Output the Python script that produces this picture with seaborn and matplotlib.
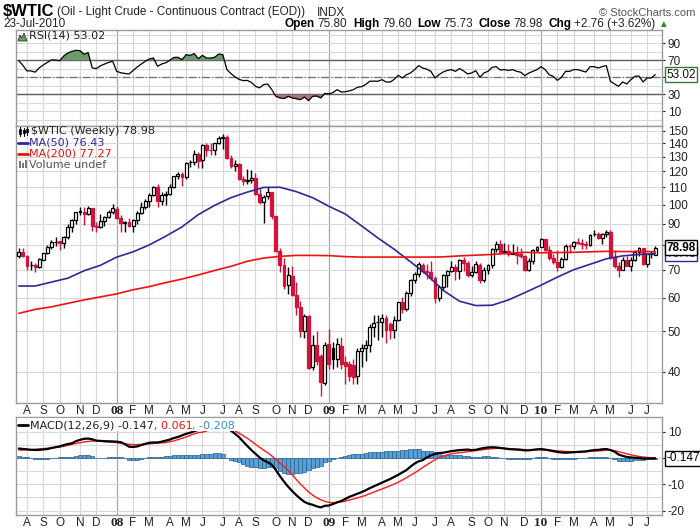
import numpy as np
import pandas as pd
import matplotlib
matplotlib.use("Agg")
import matplotlib.pyplot as plt
from matplotlib.lines import Line2D
from matplotlib.patches import Polygon, Rectangle
import seaborn as sns

# weekly bars, Monday of the first week
first_week = "2007-07-23"

opens = [75.6, 77.0, 75.5, 71.7, 72.0, 71.1, 74.0, 76.7, 79.1, 81.5,
         81.7, 81.2, 83.7, 88.6, 91.9, 95.9, 96.3, 95.1, 98.2, 88.7,
         88.3, 91.3, 93.3, 96.0, 97.9, 92.7, 90.6, 90.7, 89.0, 91.8,
         95.5, 98.8, 101.8, 105.2, 110.2, 101.8, 105.6, 106.2, 110.1, 116.7,
         118.5, 116.3, 126.0, 126.3, 132.2, 127.4, 138.5, 134.9, 134.6, 140.2,
         144.3, 145.1, 128.9, 123.3, 125.1, 115.2, 113.8, 114.6, 115.5, 106.2,
         101.2, 104.6, 106.9, 93.9, 77.7, 71.9, 64.2, 67.8, 61.0, 57.0,
         49.9, 54.4, 41.0, 46.3, 43.5, 37.7, 46.5, 45.5, 43.0, 46.0,
         42.2, 41.8, 41.5, 39.0, 44.8, 45.5, 46.3, 51.1, 52.4, 52.5,
         53.6, 51.9, 50.2, 53.2, 58.6, 56.3, 61.7, 66.3, 68.4, 72.0,
         69.6, 69.2, 66.7, 59.9, 63.6, 68.1, 69.5, 71.0, 69.6, 73.9,
         72.7, 68.0, 69.3, 72.0, 66.0, 70.0, 71.8, 78.5, 80.5, 77.0,
         77.4, 76.4, 76.7, 76.1, 75.5, 69.9, 73.4, 78.1, 79.4, 82.8,
         78.0, 74.5, 72.9, 71.2, 74.1, 79.8, 79.7, 81.5, 81.2, 80.7,
         80.0, 84.9, 84.9, 83.2, 85.1, 86.2, 75.1, 71.6, 70.0, 74.0,
         71.5, 73.8, 77.2, 78.9, 72.1, 76.1, 75.80]

highs = [78.8, 78.8, 75.9, 73.3, 72.6, 74.5, 76.9, 80.2, 82.4, 83.9,
         82.0, 84.1, 90.0, 92.2, 96.2, 98.6, 98.5, 99.3, 98.4, 90.8,
         94.8, 93.8, 97.0, 100.1, 99.1, 94.6, 91.6, 92.9, 92.3, 96.7,
         101.3, 103.0, 106.5, 111.0, 111.8, 107.0, 107.9, 112.2, 117.0, 119.9,
         119.5, 126.2, 127.8, 135.1, 133.7, 139.1, 139.9, 139.9, 140.4, 145.9,
         147.3, 146.7, 131.0, 127.4, 125.9, 116.9, 121.8, 121.0, 119.0, 108.9,
         105.3, 110.0, 107.0, 94.1, 79.0, 74.5, 71.0, 71.6, 65.5, 59.1,
         55.0, 54.6, 49.0, 50.0, 44.0, 47.0, 50.5, 47.0, 48.0, 48.5,
         43.5, 42.5, 43.0, 45.5, 46.5, 47.5, 52.0, 54.7, 54.5, 54.8,
         54.5, 52.5, 54.2, 58.7, 60.1, 62.3, 66.6, 69.0, 73.2, 72.6,
         72.2, 73.4, 67.6, 64.4, 68.4, 70.0, 73.4, 72.4, 74.3, 75.0,
         73.4, 71.3, 73.4, 72.6, 70.9, 72.3, 78.9, 82.0, 82.5, 81.0,
         80.5, 80.4, 79.6, 79.0, 75.7, 74.6, 78.2, 79.7, 83.5, 83.0,
         79.7, 76.3, 78.0, 75.2, 80.5, 80.5, 82.0, 83.2, 83.0, 82.0,
         84.9, 87.0, 86.2, 85.6, 87.2, 87.0, 77.8, 72.9, 75.0, 75.4,
         75.0, 77.8, 79.3, 79.0, 76.2, 77.4, 79.60]

lows = [74.8, 74.9, 69.9, 69.8, 69.0, 70.5, 73.8, 76.3, 78.3, 79.5,
        77.8, 78.7, 83.0, 85.9, 90.1, 94.6, 89.5, 94.4, 86.5, 85.9,
        88.0, 89.0, 92.8, 95.0, 92.3, 86.1, 86.1, 88.3, 86.1, 90.0,
        94.8, 97.8, 98.9, 104.7, 98.7, 99.6, 99.6, 105.5, 109.6, 115.4,
        111.0, 115.0, 122.7, 124.4, 122.0, 122.5, 130.6, 131.5, 131.5, 139.6,
        135.9, 128.2, 122.3, 120.4, 114.6, 111.3, 111.8, 112.4, 105.5, 100.1,
        90.5, 103.0, 92.6, 77.1, 69.0, 63.0, 61.3, 60.6, 54.7, 48.3,
        48.2, 40.5, 40.3, 41.5, 35.1, 37.2, 40.5, 40.5, 41.0, 40.5,
        37.5, 38.0, 37.3, 37.3, 41.0, 42.5, 44.5, 48.5, 47.5, 48.5,
        46.7, 47.9, 48.2, 52.7, 55.3, 55.8, 60.5, 65.1, 67.3, 68.8,
        66.5, 66.0, 58.3, 59.0, 62.7, 63.7, 69.0, 66.1, 66.6, 69.5,
        67.1, 67.1, 68.9, 65.1, 65.6, 68.3, 70.7, 77.1, 76.4, 76.3,
        75.6, 76.1, 72.4, 74.5, 69.5, 69.5, 72.2, 77.2, 79.3, 77.6,
        73.9, 72.4, 69.5, 70.7, 73.8, 76.8, 78.3, 80.7, 78.5, 78.6,
        79.6, 84.0, 82.7, 80.8, 83.7, 74.2, 70.8, 67.2, 69.8, 71.3,
        69.5, 73.4, 75.4, 71.8, 71.2, 74.5, 75.73]

closes = [77.02, 75.48, 71.47, 71.98, 71.09, 74.04, 76.70, 79.10, 81.62, 81.66,
          81.22, 83.69, 88.60, 91.86, 95.93, 96.32, 95.10, 98.18, 88.71, 88.28,
          91.27, 93.31, 96.00, 97.91, 92.69, 90.57, 90.71, 88.96, 91.77, 95.50,
          98.81, 101.84, 105.15, 110.21, 101.84, 105.62, 106.23, 110.14, 116.69, 118.52,
          116.32, 125.96, 126.29, 132.19, 127.35, 138.54, 134.86, 134.62, 140.21, 144.30,
          145.08, 128.88, 123.26, 125.10, 115.20, 113.77, 114.59, 115.46, 106.23, 101.18,
          104.55, 106.89, 93.88, 77.70, 71.85, 64.15, 67.81, 61.04, 57.04, 49.93,
          54.43, 40.81, 46.28, 42.36, 37.71, 46.34, 41.80, 43.00, 46.47, 41.68,
          41.20, 39.00, 38.90, 44.76, 45.52, 46.25, 51.06, 52.38, 52.51, 53.60,
          50.33, 50.20, 53.20, 58.63, 56.34, 61.67, 66.31, 68.44, 72.04, 69.55,
          69.16, 66.73, 59.89, 63.56, 68.05, 69.45, 70.93, 69.60, 73.89, 72.74,
          68.02, 69.29, 72.04, 66.02, 69.95, 71.77, 78.53, 80.50, 77.00, 77.43,
          76.35, 76.72, 76.05, 75.47, 69.87, 73.36, 78.05, 79.36, 82.75, 78.00,
          74.54, 72.89, 71.19, 74.13, 79.81, 79.66, 81.50, 81.24, 80.68, 80.00,
          84.87, 84.92, 83.24, 85.12, 86.15, 75.11, 71.61, 70.04, 73.97, 71.51,
          73.78, 77.18, 78.86, 72.14, 76.09, 76.22, 78.98]

# moving averages read every 4th week
ma_weeks = list(range(0, 157, 4))
ma50 = [64.0, 64.0, 65.4, 66.8, 69.6, 71.7, 75.0, 77.2, 80.2, 84.1,
        88.5, 94.7, 99.6, 103.9, 107.1, 109.9, 110.0, 107.4, 103.9, 99.1,
        95.0, 89.0, 83.3, 78.3, 73.1, 68.1, 62.5, 58.9, 57.5, 57.6,
        59.3, 61.7, 64.3, 67.2, 70.0, 72.1, 74.3, 75.5, 76.1, 76.43]
ma200 = [55.1, 56.3, 57.1, 58.2, 59.3, 60.3, 61.3, 62.7, 63.8, 65.2,
         66.5, 68.0, 69.7, 71.3, 73.3, 74.6, 75.3, 75.7, 75.7, 75.6,
         75.2, 75.0, 75.0, 75.0, 75.0, 75.0, 75.1, 75.5, 75.8, 76.1,
         76.6, 77.0, 76.8, 76.9, 77.0, 77.2, 77.4, 77.3, 77.3, 77.27]

rsi14 = [69.5, 64.0, 57.5, 57.5, 56.0, 61.0, 64.5, 67.5, 70.5, 70.3,
         69.5, 75.0, 78.5, 80.5, 81.7, 81.3, 77.0, 79.0, 61.0, 60.2,
         63.5, 65.5, 67.5, 68.8, 57.0, 55.3, 54.5, 53.9, 57.8, 62.0,
         65.5, 68.8, 71.5, 72.7, 62.9, 65.6, 67.0, 70.0, 73.3, 73.5,
         70.7, 76.6, 75.8, 77.8, 71.9, 75.8, 72.7, 72.5, 73.5, 77.4,
         76.6, 59.0, 54.3, 50.5, 47.5, 46.1, 46.3, 44.0, 39.4, 37.5,
         41.4, 42.0, 35.5, 27.6, 25.7, 25.0, 27.6, 25.7, 24.8, 23.7,
         26.8, 22.5, 27.6, 28.0, 25.7, 31.1, 30.4, 32.0, 35.5, 32.7,
         33.0, 34.0, 35.5, 38.2, 39.0, 41.5, 45.3, 45.5, 45.3, 47.2,
         44.5, 44.3, 47.5, 52.3, 49.2, 53.0, 55.1, 59.0, 63.7, 60.9,
         59.5, 57.0, 49.2, 53.1, 56.2, 58.0, 59.0, 57.0, 60.2, 57.5,
         53.9, 55.1, 57.8, 50.0, 55.1, 57.0, 61.7, 62.5, 58.6, 59.0,
         58.0, 59.0, 57.0, 56.0, 51.9, 55.0, 57.0, 59.0, 62.5, 59.0,
         53.1, 51.0, 46.4, 50.0, 57.0, 57.0, 59.0, 59.0, 57.5, 56.2,
         62.5, 62.5, 61.0, 62.5, 63.7, 45.3, 42.1, 39.4, 44.5, 42.1,
         47.2, 51.1, 51.5, 44.5, 49.2, 49.2, 53.02]

macd_line = [3.6, 3.45, 3.3, 3.1, 3.05, 3.1, 3.25, 3.4, 3.8, 4.1,
             4.4, 4.9, 5.3, 5.6, 6.4, 6.9, 7.3, 7.4, 7.1, 6.6,
             6.5, 6.4, 6.35, 6.3, 6.2, 6.0, 5.3, 4.3, 4.2, 4.4,
             4.9, 5.4, 5.8, 5.9, 5.9, 6.2, 6.6, 7.0, 7.6, 8.0,
             8.6, 9.2, 9.6, 10.2, 10.7, 11.2, 11.9, 12.5, 13.0, 13.4,
             13.3, 11.5, 10.4, 9.2, 7.9, 6.2, 4.6, 3.0, 1.6, 0.2,
             -0.9, -1.6, -2.6, -4.6, -6.9, -9.0, -10.9, -12.6, -14.1, -15.5,
             -16.7, -17.4, -17.8, -18.4, -18.8, -18.2, -18.1, -17.5, -16.9, -16.4,
             -15.6, -14.8, -14.2, -13.6, -13.0, -12.3, -11.5, -10.8, -10.1, -9.4,
             -8.7, -8.0, -7.2, -6.4, -5.5, -4.6, -3.3, -2.1, -1.3, -0.8,
             0.2, 1.0, 1.5, 1.9, 2.0, 2.3, 2.6, 2.8, 3.0, 3.1,
             3.2, 3.0, 3.1, 3.5, 3.8, 4.0, 4.1, 4.0, 3.8, 3.6,
             3.4, 3.3, 3.2, 3.1, 2.9, 2.9, 3.1, 3.3, 3.4, 3.2,
             2.9, 2.6, 2.3, 2.1, 2.0, 2.1, 2.2, 2.3, 2.4, 2.5,
             2.8, 3.0, 3.1, 3.3, 3.4, 3.0, 2.4, 1.3, 0.8, 0.4,
             0.2, 0.1, 0.0, -0.2, -0.2, -0.2, -0.147]

macd_signal = [3.0, 3.0, 3.1, 3.2, 3.3, 3.45, 3.6, 3.7, 3.85, 4.0,
               4.2, 4.45, 4.8, 5.2, 5.55, 5.8, 6.1, 6.3, 6.45, 6.55,
               6.45, 6.25, 6.1, 5.95, 5.85, 5.6, 5.35, 5.2, 5.1, 5.1,
               5.15, 5.3, 5.4, 5.55, 5.65, 5.75, 5.85, 6.2, 6.5, 7.0,
               7.5, 8.0, 8.6, 9.2, 9.65, 9.8, 10.3, 10.8, 11.2, 11.5,
               11.6, 11.4, 11.0, 10.3, 9.4, 8.5, 7.5, 6.4, 5.2, 4.1,
               3.0, 2.0, 0.8, -0.6, -2.0, -3.2, -4.7, -6.4, -8.2, -9.9,
               -11.4, -12.9, -14.1, -15.1, -15.9, -16.5, -16.9, -17.0, -16.9, -16.7,
               -16.4, -16.0, -15.6, -15.2, -14.7, -14.2, -13.6, -13.0, -12.4, -11.8,
               -11.2, -10.6, -9.9, -9.2, -8.4, -7.5, -6.6, -5.7, -4.7, -3.6,
               -2.6, -1.6, -0.7, 0.1, 0.7, 1.2, 1.6, 1.8, 2.0, 2.2,
               2.4, 2.6, 2.8, 3.0, 3.2, 3.4, 3.55, 3.65, 3.7, 3.7,
               3.6, 3.5, 3.4, 3.3, 3.2, 3.1, 3.1, 3.1, 3.1, 3.0,
               3.0, 2.9, 2.7, 2.6, 2.5, 2.4, 2.4, 2.4, 2.4, 2.45,
               2.5, 2.6, 2.7, 2.8, 3.0, 3.0, 2.8, 2.4, 2.0, 1.6,
               1.2, 0.9, 0.6, 0.4, 0.2, 0.1, 0.061]

price_ticks = [40, 50, 60, 70, 80, 90, 100, 110, 120, 130, 140, 150]
price_labels = ["40", "50", "60", "70", "", "90", "100", "110", "120", "130", "140", "150"]
rsi_ticks = [10, 30, 50, 70, 90]
rsi_labels = ["10", "30", "", "70", "90"]
macd_ticks = [10, 0, -10, -20]
macd_labels = ["10", "", "-10", "-20"]

sns.set_style("whitegrid")
plt.rcParams["font.family"] = ["Liberation Sans", "DejaVu Sans"]

RED = "#d2143c"
NAVY = "#2a2a98"
GRID = "#d8d8d8"
YEARGRID = "#a8a8a8"
SPINE = "#9a9a9a"
HISTBLUE = "#5a9fd4"

n = len(closes)
weeks = np.arange(n)
dates = pd.date_range(first_week, periods=n, freq="W-MON")

o = np.array(opens)
h = np.array(highs)
l = np.array(lows)
c = np.array(closes)
hist = np.array(macd_line) - np.array(macd_signal)

# month grid positions (first bar of each month)
month_pos, month_lab, year_flag = [], [], []
for i in range(1, n):
    if dates[i].month != dates[i - 1].month:
        month_pos.append(i)
        if dates[i].month == 1:
            month_lab.append(dates[i].strftime("%y"))
            year_flag.append(True)
        else:
            month_lab.append(dates[i].strftime("%b")[0])
            year_flag.append(False)

fig = plt.figure(figsize=(7, 5.3), dpi=100)


def panel(top, bottom):
    return [16 / 700, 1 - bottom / 530, 646 / 700, (bottom - top) / 530]


ax_rsi = fig.add_axes(panel(30, 126))
ax_px = fig.add_axes(panel(126, 403))
ax_md = fig.add_axes(panel(417, 515))

for ax in (ax_rsi, ax_px, ax_md):
    ax.grid(False)
    ax.set_facecolor("white")
    for p, yr in zip(month_pos, year_flag):
        ax.axvline(p, color=YEARGRID if yr else GRID, lw=0.9, zorder=0)
    for s in ax.spines.values():
        s.set_color(SPINE)
        s.set_linewidth(1)
    ax.yaxis.tick_right()
    ax.tick_params(axis="y", which="both", length=2, width=0.8, pad=2,
                   labelsize=8.5, colors="#222222", left=False, right=True)
    ax.tick_params(axis="x", length=0, pad=1.5, labelsize=8.5, colors="#222222")

# ---- RSI panel ----
rsi = np.array(rsi14)
for v in range(0, 101, 10):
    ax_rsi.axhline(v, color=GRID, lw=0.8, zorder=0)
ax_rsi.fill_between(weeks, rsi, 70, where=rsi > 70, interpolate=True,
                    color="#6c9a6c", lw=0, zorder=2)
ax_rsi.fill_between(weeks, rsi, 30, where=rsi < 30, interpolate=True,
                    color="#b27676", lw=0, zorder=2)
ax_rsi.axhline(70, color="#606060", lw=1, zorder=1)
ax_rsi.axhline(30, color="#606060", lw=1, zorder=1)
ax_rsi.axhline(50, color="#707070", lw=0.9, ls="-.", zorder=1)
sns.lineplot(x=weeks, y=rsi, ax=ax_rsi, color="black", lw=0.9, zorder=3)
ax_rsi.set_ylim(-7.3, 105.6)
ax_rsi.set_yticks(rsi_ticks)
ax_rsi.set_yticklabels(rsi_labels)

# ---- price panel ----
ax_px.set_yscale("log")
for v in price_ticks:
    ax_px.axhline(v, color=GRID, lw=0.8, zorder=0)
prev_up = np.r_[True, c[1:] >= c[:-1]]
edge = np.where(prev_up, "black", RED)
face = np.where(c >= o, "white", edge)
ax_px.vlines(weeks, l, h, colors=edge, lw=1.0, zorder=3)
body = np.maximum(np.abs(c - o), 0.04)
ax_px.bar(weeks, body, bottom=np.minimum(o, c), width=0.72, color=face,
          edgecolor=edge, linewidth=0.9, zorder=4)
sns.lineplot(x=ma_weeks, y=ma50, ax=ax_px, color=NAVY, lw=1.2, zorder=5)
sns.lineplot(x=ma_weeks, y=ma200, ax=ax_px, color="#ee1111", lw=1.2, zorder=5)
ax_px.set_ylim(33.7, 153.9)
ax_px.set_yticks(price_ticks)
ax_px.set_yticklabels(price_labels)
ax_px.yaxis.set_minor_locator(matplotlib.ticker.NullLocator())

# ---- MACD panel ----
for v in (10, 5, 0, -5, -10, -15, -20):
    ax_md.axhline(v, color=GRID, lw=0.8, zorder=0)
ax_md.bar(weeks, hist, width=1.0, color=HISTBLUE, edgecolor="#25608f",
          linewidth=0.5, zorder=2)
sns.lineplot(x=weeks, y=macd_signal, ax=ax_md, color="#ff1a1a", lw=1.0, zorder=4)
sns.lineplot(x=weeks, y=macd_line, ax=ax_md, color="black", lw=1.6, zorder=5)
ax_md.set_ylim(-21.7, 15.6)
ax_md.set_yticks(macd_ticks)
ax_md.set_yticklabels(macd_labels)

for ax in (ax_rsi, ax_px, ax_md):
    ax.set_xlim(-0.69, n + 0.64)
    ax.set_xlabel("")
    ax.set_ylabel("")
    ax.set_xticks(month_pos)
    ax.set_xticklabels(month_lab)
    for lbl in ax.get_xticklabels():
        if lbl.get_text().isdigit():
            lbl.set_fontweight("bold")
            lbl.set_fontfamily("Liberation Serif")
            lbl.set_fontsize(9.5)
ax_rsi.tick_params(axis="x", labelbottom=False)


def tag(ax, y, text, ec, tc, weight="normal", z=10):
    ax.annotate(text, xy=(1, y), xycoords=ax.get_yaxis_transform(),
                xytext=(3, 0), textcoords="offset points", ha="left", va="center",
                fontsize=8.5, fontweight=weight, color=tc, zorder=z,
                annotation_clip=False,
                bbox=dict(boxstyle="square,pad=0.12", fc="white", ec=ec, lw=1))


tag(ax_px, ma50[-1], "76.43", NAVY, NAVY, z=9)
tag(ax_px, closes[-1], "78.98", "black", "black", weight="bold", z=10)
tag(ax_rsi, rsi14[-1], "53.02", "#2e7d32", "#111111")
tag(ax_md, macd_line[-1], "-0.147", "black", "black")

# ---- overlay in image pixel coordinates: header, legends ----
hdr = fig.add_axes([0, 0, 1, 1], zorder=10)
hdr.set_xlim(0, 700)
hdr.set_ylim(530, 0)
hdr.axis("off")


def chain(parts, x, y, ha="left", family=None):
    """text pieces side by side; parts = (text, color, weight, gap_before, size)"""
    if ha == "left":
        order = list(range(len(parts)))
    else:
        order = list(range(len(parts)))[::-1]
    prev = None
    prev_k = None
    for k in order:
        s, col, wt, gap, size = parts[k]
        kw = dict(fontsize=size, color=col, fontweight=wt, va="baseline", ha=ha)
        if family:
            kw["family"] = family
        if prev is None:
            prev = hdr.annotate(s, xy=(x, y), xycoords="data", **kw)
        elif ha == "left":
            prev = hdr.annotate(s, xy=(1, y), xycoords=(prev, "data"),
                                xytext=(gap, 0), textcoords="offset points", **kw)
        else:
            g = parts[prev_k][3]
            prev = hdr.annotate(s, xy=(0, y), xycoords=(prev, "data"),
                                xytext=(-g, 0), textcoords="offset points", **kw)
        prev_k = k
    return prev


chain([("$WTIC", "black", "bold", 0, 12),
       ("(Oil - Light Crude - Continuous Contract (EOD))", "#222222", "normal", 2.0, 8.5),
       ("INDX", "#222222", "normal", 8.0, 8.5)],
      3, 15.5)
hdr.text(695, 15.5, "\u00a9 StockCharts.com", ha="right", va="baseline",
         fontsize=8, color="#555555")
hdr.text(3, 27, "23-Jul-2010", ha="left", va="baseline", fontsize=8.5, color="#222222")
chain([("Open", "black", "bold", 0, 8.5), ("75.80", "#222222", "normal", 2.0, 8.5),
       ("High", "black", "bold", 4.0, 8.5), ("79.60", "#222222", "normal", 2.0, 8.5),
       ("Low", "black", "bold", 4.0, 8.5), ("75.73", "#222222", "normal", 2.0, 8.5),
       ("Close", "black", "bold", 4.0, 8.5), ("78.98", "#222222", "normal", 2.0, 8.5),
       ("Chg", "black", "bold", 4.0, 8.5), ("+2.76 (+3.62%)", "#222222", "normal", 2.0, 8.5),
       ("\u25b2", "#2e8b2e", "normal", 2.0, 7)],
      668, 27, ha="right")

LEG = ["DejaVu Sans"]
# RSI legend
hdr.add_patch(Polygon([[18, 41], [20, 35], [22, 38], [24, 33], [27, 41]],
                      closed=True, fc="#6c9a6c", ec="#333333", lw=0.6))
hdr.text(29, 36, "RSI(14) 53.02", fontsize=8, va="center", ha="left",
         family=LEG, color="#222222")

# price legend
for xx, y0, y1, b0, b1, fc in [(20, 127, 136, 129, 134, "white"),
                               (24, 128, 136, 130, 133, "black"),
                               (27, 127, 135, 129, 132, "white")]:
    hdr.add_line(Line2D([xx, xx], [y0, y1], color="black", lw=0.8))
    hdr.add_patch(Rectangle((xx - 1, b0), 2, b1 - b0, fc=fc, ec="black", lw=0.6))
hdr.text(31, 131.5, "$WTIC (Weekly) 78.98", fontsize=8, va="center", ha="left",
         family=LEG, color="#222222")
hdr.add_line(Line2D([18, 28], [142.5, 142.5], color=NAVY, lw=2))
hdr.text(29, 142.5, "MA(50) 76.43", fontsize=8, va="center", ha="left",
         family=LEG, color=NAVY)
hdr.add_line(Line2D([18, 28], [153.5, 153.5], color="#ee1111", lw=2))
hdr.text(29, 153.5, "MA(200) 77.27", fontsize=8, va="center", ha="left",
         family=LEG, color="#ee1111")
for xx, top in [(20, 161), (23, 163), (26, 160)]:
    hdr.add_patch(Rectangle((xx - 1, top), 2, 168 - top, fc="#777777", ec="none"))
hdr.text(29, 164.5, "Volume undef", fontsize=8, va="center", ha="left",
         family=LEG, color="#555555")

# MACD legend on a white strip
hdr.add_patch(Rectangle((17, 418), 225, 13, fc="white", ec="none"))
hdr.add_line(Line2D([18, 28], [424.5, 424.5], color="black", lw=2))
chain([("MACD(12,26,9) -0.147", "#222222", "normal", 0, 8),
       (", 0.061", "#ee1111", "normal", 0, 8),
       (", -0.208", "#3a8fd0", "normal", 0, 8)],
      30, 428.5, family=LEG)

fig.savefig("out.png", dpi=100)
